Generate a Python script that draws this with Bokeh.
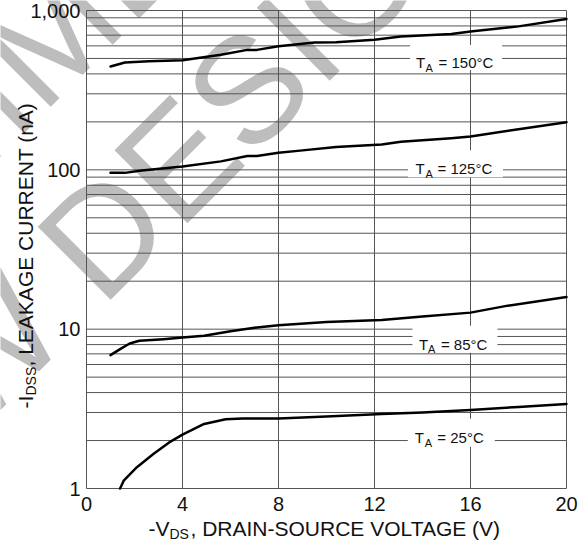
import math

from bokeh.core.properties import value
from bokeh.embed import file_html
from bokeh.models import ColumnDataSource, FixedTicker, Label, Range1d
from bokeh.plotting import figure
from bokeh.resources import INLINE

# Leakage current vs drain-source voltage, one curve per ambient temperature
vds_150 = [1.0, 1.6, 2.6, 4.0, 5.6, 6.7, 7.1, 8.0, 9.5, 10.4, 12.0, 13.1, 15.2, 16.0, 18.0, 20.0]
idss_150 = [445, 472, 480, 488, 527, 566, 566, 596, 630, 632, 655, 687, 713, 738, 795, 885]

vds_125 = [1.0, 1.6, 2.3, 4.0, 5.6, 6.7, 7.1, 8.0, 8.9, 10.4, 12.3, 13.1, 15.2, 16.0, 18.0, 20.0]
idss_125 = [95.7, 95.7, 99, 105, 113, 122, 122, 128, 132, 139, 144, 150, 158, 162, 180, 199]

vds_85 = [1.0, 1.4, 1.8, 2.2, 3.2, 4.0, 4.9, 6.0, 7.0, 8.0, 10.0, 12.3, 14.0, 16.0, 17.5, 20.0]
idss_85 = [6.87, 7.5, 8.13, 8.45, 8.65, 8.86, 9.08, 9.7, 10.2, 10.6, 11.1, 11.4, 12.0, 12.7, 14.0, 15.9]

vds_25 = [1.4, 1.55, 2.1, 2.8, 3.5, 4.0, 4.9, 5.8, 6.5, 8.0, 10.0, 12.3, 14.0, 16.0, 18.0, 20.0]
idss_25 = [1.0, 1.12, 1.36, 1.65, 1.97, 2.18, 2.54, 2.72, 2.75, 2.75, 2.83, 2.94, 3.0, 3.11, 3.25, 3.39]

temp_labels = ["150°C", "125°C", "85°C", "25°C"]

x_ticks = [0, 4, 8, 12, 16, 20]
y_ticks = [1, 10, 100, 1000]
y_tick_labels = ["1", "10", "100", "1,000"]
y_minor = [m * d for d in (1, 10, 100) for m in range(2, 10)]

FONT = "Liberation Sans"
INK = "#111111"
GRID = "#555555"

# Canvas geometry: the plotting frame covers the whole canvas so that the
# axis titles and the watermark can sit outside the gridded area.
W, H = 582, 542
GRID_LEFT, GRID_RIGHT, GRID_TOP, GRID_BOTTOM = 86, 566, 10, 488
x_lo, x_hi = x_ticks[0], x_ticks[-1]
y_lo, y_hi = y_ticks[0], y_ticks[-1]
x_per_px = (x_hi - x_lo) / (GRID_RIGHT - GRID_LEFT)
dec_per_px = math.log10(y_hi / y_lo) / (GRID_BOTTOM - GRID_TOP)
x_range = Range1d(x_lo - GRID_LEFT * x_per_px, x_hi + (W - GRID_RIGHT) * x_per_px)
y_range = Range1d(y_lo * 10 ** (-(H - GRID_BOTTOM) * dec_per_px),
                  y_hi * 10 ** (GRID_TOP * dec_per_px))

p = figure(
    width=W, height=H, x_range=x_range, y_range=y_range, y_axis_type="log",
    output_backend="svg", toolbar_location=None, min_border=0,
)
p.title.visible = False
p.background_fill_color = "white"
p.border_fill_color = "white"
p.outline_line_color = None
p.xgrid.visible = False
p.ygrid.visible = False

# axes pinned to the edges of the gridded area
p.xaxis.fixed_location = y_lo
p.yaxis.fixed_location = x_lo
p.xaxis.ticker = FixedTicker(ticks=x_ticks)
p.yaxis.ticker = FixedTicker(ticks=y_ticks, minor_ticks=y_minor)
p.yaxis.major_label_overrides = dict(zip(y_ticks, y_tick_labels))
for ax in (p.xaxis, p.yaxis):
    ax.axis_line_color = None
    ax.major_tick_line_color = None
    ax.minor_tick_line_color = None
    ax.major_tick_in = 0
    ax.major_tick_out = 0
    ax.minor_tick_in = 0
    ax.minor_tick_out = 0
    ax.major_label_text_font = FONT
    ax.major_label_text_font_size = "20px"
    ax.major_label_text_color = INK
p.xaxis.major_label_standoff = 8
p.yaxis.major_label_standoff = 6

# watermark, painted beneath everything else
wm_style = dict(
    x=x_lo, y=y_lo, angle=math.pi / 4, text_font=FONT, text_font_size="150px",
    text_color="#bdbdbd", text_align="center", text_baseline="alphabetic",
    level="image",
)
p.add_layout(Label(text="NOT RECOMMENDED FOR", x_offset=-47, y_offset=444, **wm_style))
p.add_layout(Label(text="NEW DESIGNS", x_offset=79, y_offset=317, **wm_style))

# grid: vertical lines at the major voltages, horizontal lines at every 1-9 step
x_inner = x_ticks[1:-1]
p.segment(x0=x_inner, y0=[y_lo] * len(x_inner), x1=x_inner, y1=[y_hi] * len(x_inner),
          line_color=GRID, line_width=1)
y_lines = sorted(y_minor + y_ticks[1:-1])
p.segment(x0=[x_lo] * len(y_lines), y0=y_lines, x1=[x_hi] * len(y_lines), y1=y_lines,
          line_color=GRID, line_width=1)
p.quad(left=[x_lo], right=[x_hi], bottom=[y_lo], top=[y_hi],
       fill_color=None, line_color=GRID, line_width=1)

# curves
for xs, ys in ((vds_150, idss_150), (vds_125, idss_125), (vds_85, idss_85), (vds_25, idss_25)):
    p.line(xs, ys, line_color="black", line_width=2.5, line_join="round", line_cap="round")

# temperature tags with white boxes that break the grid
tag_src = ColumnDataSource(dict(
    x=[15.4, 15.375, 15.35, 15.2],
    y=[507, 109, 8.63, 2.24],
    bw=[92, 95, 85, 87],
    bh=[25, 27, 27, 28],
    t_off=[-40, -40, -36, -36.5],
    a_off=[-30.5, -30, -27, -26.5],
    r_off=[-17.5, -18, -14, -14],
    rest=["= " + t for t in temp_labels],
))
tag_font = dict(text_color=INK, text_baseline="alphabetic", text_font=value(FONT))
p.rect("x", "y", width="bw", height="bh", width_units="screen", height_units="screen",
       source=tag_src, fill_color="white", line_color=None)
p.text("x", "y", text=value("T"), x_offset="t_off", y_offset=5, source=tag_src,
       text_font_size="15px", **tag_font)
p.text("x", "y", text=value("A"), x_offset="a_off", y_offset=10, source=tag_src,
       text_font_size="11px", **tag_font)
p.text("x", "y", text="rest", x_offset="r_off", y_offset=5, source=tag_src,
       text_font_size="15px", **tag_font)

# axis titles with subscripts, anchored at the lower-left corner of the grid
title_style = dict(x=x_lo, y=y_lo, text_font=FONT, text_color=INK, text_baseline="alphabetic")
p.add_layout(Label(text="-V", x_offset=62, y_offset=-40, text_font_size="21px", **title_style))
p.add_layout(Label(text="DS", x_offset=83, y_offset=-45, text_font_size="14px", **title_style))
p.add_layout(Label(text=", DRAIN-SOURCE VOLTAGE (V)", x_offset=104, y_offset=-40,
                   text_font_size="21px", **title_style))

vt = dict(angle=math.pi / 2, **title_style)
p.add_layout(Label(text="-I", x_offset=-61, y_offset=80, text_font_size="21px", **vt))
p.add_layout(Label(text="DSS", x_offset=-56, y_offset=93, text_font_size="14px", **vt))
p.add_layout(Label(text=", LEAKAGE CURRENT (nA)", x_offset=-61, y_offset=122,
                   text_font_size="21px", **vt))

open("out.html", "w").write(file_html(p, INLINE))
